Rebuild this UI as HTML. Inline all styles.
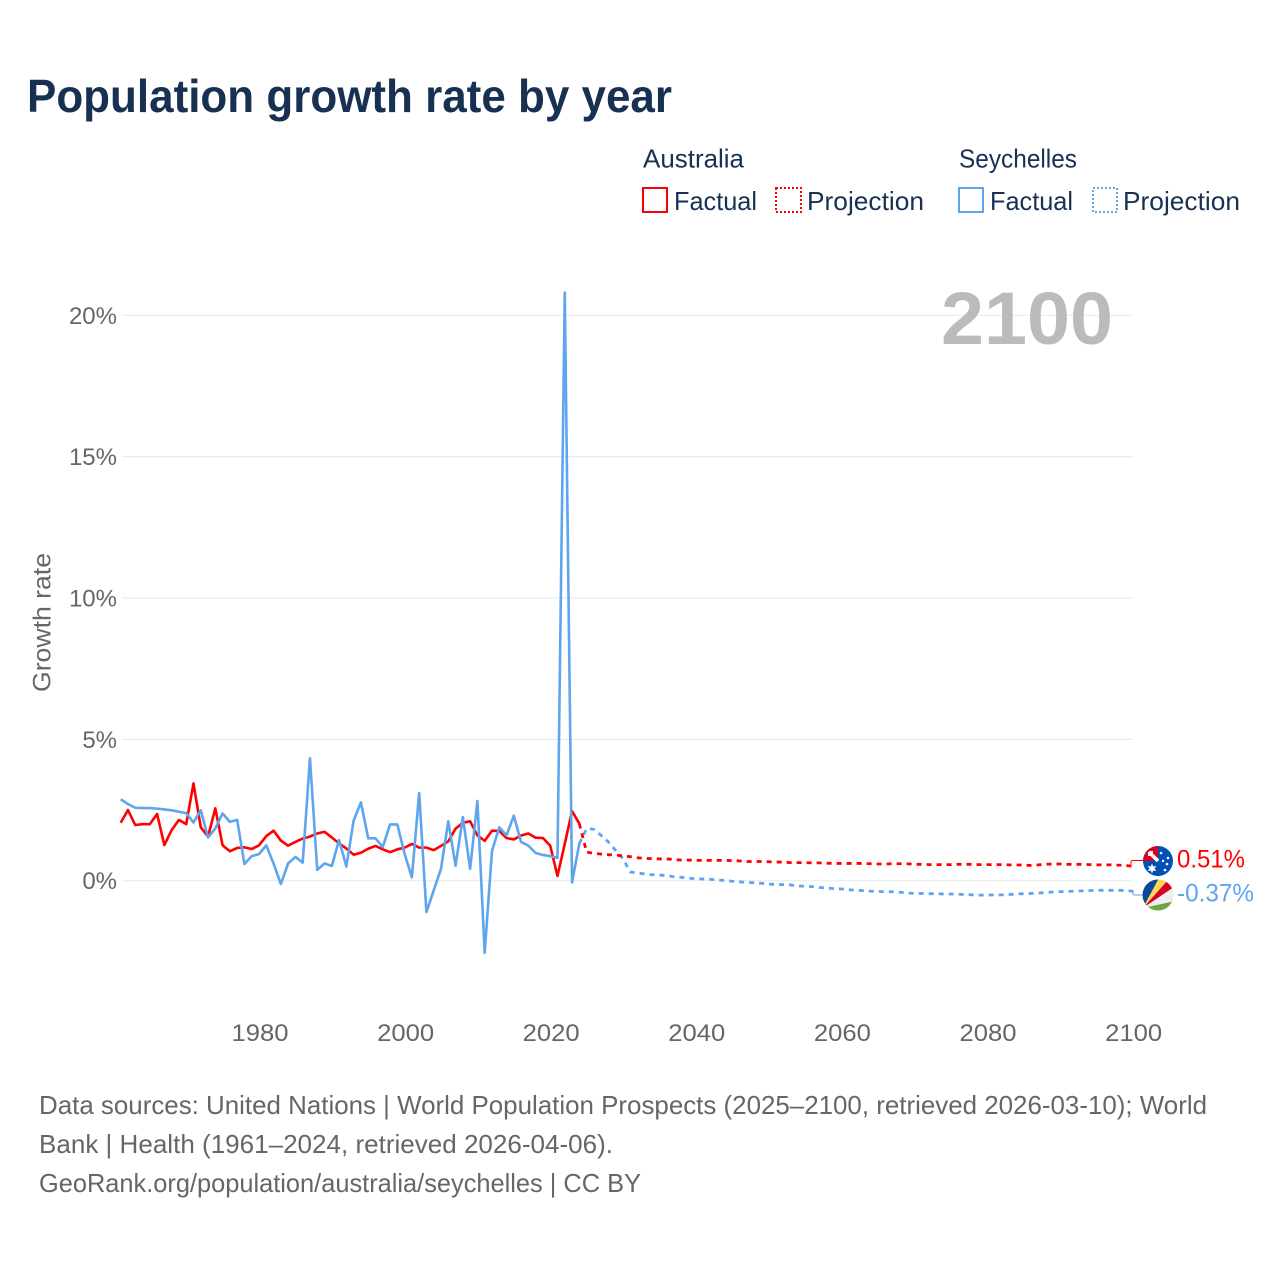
<!DOCTYPE html>
<html lang="en">
<head>
<meta charset="utf-8">
<title>Population growth rate by year</title>
<style>
  html, body { margin: 0; padding: 0; background: #fff; }
  svg { display: block; }
  text { font-family: "Liberation Sans", "DejaVu Sans", sans-serif; }
</style>
</head>
<body>
<svg id="chart" xmlns="http://www.w3.org/2000/svg" width="1280" height="1280" viewBox="0 0 1280 1280">
  <defs>
    <clipPath id="clip-au"><circle cx="1158" cy="861" r="15"></circle></clipPath>
    <clipPath id="clip-sc"><circle cx="1158" cy="895" r="15.5"></circle></clipPath>
  </defs>

  <text x="27" y="112" font-size="46" font-weight="700" fill="#183153" textLength="645" lengthAdjust="spacingAndGlyphs">Population growth rate by year</text>

  <g font-size="26" fill="#183153">
    <text x="643" y="167.5" textLength="101" lengthAdjust="spacingAndGlyphs">Australia</text>
    <text x="959" y="167.5" textLength="118" lengthAdjust="spacingAndGlyphs">Seychelles</text>

    <rect x="643" y="188" width="24" height="24" fill="none" stroke="#ff0000" stroke-width="2"></rect>
    <text x="674" y="210" textLength="83" lengthAdjust="spacingAndGlyphs">Factual</text>
    <rect x="776" y="188" width="25" height="24" fill="none" stroke="#ff0000" stroke-width="2" stroke-dasharray="2 2"></rect>
    <text x="807" y="210" textLength="117" lengthAdjust="spacingAndGlyphs">Projection</text>

    <rect x="959" y="188" width="24" height="24" fill="none" stroke="#5ea5ee" stroke-width="2"></rect>
    <text x="990" y="210" textLength="83" lengthAdjust="spacingAndGlyphs">Factual</text>
    <rect x="1093" y="188" width="24" height="24" fill="none" stroke="#5ea5ee" stroke-width="2" stroke-dasharray="2 2"></rect>
    <text x="1123" y="210" textLength="117" lengthAdjust="spacingAndGlyphs">Projection</text>
  </g>

  <g id="grid-layer"></g>
  <g id="y-tick-layer"></g>
  <g id="x-tick-layer"></g>

  <text x="1113" y="344" font-size="74" font-weight="700" fill="#bbbbbb" text-anchor="end" textLength="172" lengthAdjust="spacingAndGlyphs">2100</text>

  <text transform="translate(50.5 622.5) rotate(-90)" font-size="25" fill="#666666" text-anchor="middle" textLength="139" lengthAdjust="spacingAndGlyphs">Growth rate</text>

  <g id="series-layer"></g>

  <path d="M1131 866 V862 Q1131 860.5 1133 860.5 H1144" fill="none" stroke="#ff0000" stroke-width="1"></path>
  <path d="M1133 890 V893.5 Q1133 895 1135 895 H1143" fill="none" stroke="#5ea5ee" stroke-width="1"></path>

  <g clip-path="url(#clip-au)">
    <rect x="1142" y="845" width="32" height="32" fill="#0052b4"></rect>
    <rect x="1142" y="845" width="16" height="16" fill="#d80027"></rect>
    <path d="M1149 852 L1158 861" stroke="#ffffff" stroke-width="3.5"></path>
    <path d="M1149 852 H1153 M1149 852 V856" stroke="#eeeeee" stroke-width="2"></path>
    <polygon points="1152,863.5 1153.2,866.5 1156.4,866 1154.5,868.5 1156.4,871 1153.2,870.5 1152,873.5 1150.8,870.5 1147.6,871 1149.5,868.5 1147.6,866 1150.8,866.5" fill="#ffffff"></polygon>
    <circle cx="1161" cy="853" r="1.3" fill="#ffffff"></circle>
    <circle cx="1168" cy="858" r="1.3" fill="#ffffff"></circle>
    <circle cx="1163" cy="861" r="1.2" fill="#ffffff"></circle>
    <circle cx="1167" cy="864" r="1.3" fill="#ffffff"></circle>
    <circle cx="1165" cy="870" r="1.3" fill="#ffffff"></circle>
  </g>

  <g clip-path="url(#clip-sc)">
    <rect x="1142" y="879" width="32" height="32" fill="#eeeeee"></rect>
    <polygon points="1143,908 1125,908 1125,875 1160.7,875" fill="#0a4a94"></polygon>
    <polygon points="1143,908 1160.7,875 1172.5,875" fill="#fcd856"></polygon>
    <polygon points="1143,908 1172.5,875 1180,875 1180,883" fill="#d80027"></polygon>
    <polygon points="1143,908 1180,883 1180,900" fill="#eeeeee"></polygon>
    <polygon points="1143,908 1180,900 1180,915 1143,915" fill="#6da544"></polygon>
  </g>

  <text x="1177" y="867.5" font-size="25" fill="#ff0000" textLength="68" lengthAdjust="spacingAndGlyphs">0.51%</text>
  <text x="1177" y="901.5" font-size="25" fill="#5ea5ee" textLength="77" lengthAdjust="spacingAndGlyphs">-0.37%</text>

  <g font-size="26" fill="#666666">
    <text x="39" y="1114" textLength="1168" lengthAdjust="spacingAndGlyphs">Data sources: United Nations | World Population Prospects (2025–2100, retrieved 2026-03-10); World</text>
    <text x="39" y="1153" textLength="574" lengthAdjust="spacingAndGlyphs">Bank | Health (1961–2024, retrieved 2026-04-06).</text>
    <text x="39" y="1192" textLength="602" lengthAdjust="spacingAndGlyphs">GeoRank.org/population/australia/seychelles | CC BY</text>
  </g>
</svg>

<script>
const factualStartYear = 1961;
const projectionStartYear = 2025;

const yTickValues = [0, 5, 10, 15, 20];
const yTickLabels = ["0%", "5%", "10%", "15%", "20%"];
const xTickValues = [1980, 2000, 2020, 2040, 2060, 2080, 2100];
const xTickLabels = ["1980", "2000", "2020", "2040", "2060", "2080", "2100"];

const australiaFactual = [
  2.05, 2.50, 1.97, 2.00, 2.00, 2.36, 1.26, 1.79, 2.15,
  2.00, 3.44, 1.89, 1.56, 2.56, 1.25, 1.04, 1.16, 1.18, 1.12,
  1.25, 1.58, 1.77, 1.42, 1.24, 1.37, 1.49, 1.56, 1.67, 1.73,
  1.53, 1.32, 1.14, 0.92, 0.99, 1.13, 1.23, 1.11, 1.01, 1.11,
  1.17, 1.30, 1.17, 1.17, 1.08, 1.23, 1.39, 1.84, 2.05, 2.10,
  1.60, 1.41, 1.77, 1.76, 1.51, 1.46, 1.60, 1.67, 1.52, 1.51,
  1.24, 0.17, 1.30, 2.46, 2.02
];

const seychellesFactual = [
  2.88, 2.71, 2.58, 2.57, 2.57, 2.55, 2.52, 2.49, 2.44,
  2.39, 2.06, 2.49, 1.53, 1.85, 2.38, 2.08, 2.15, 0.59, 0.87,
  0.94, 1.25, 0.61, -0.12, 0.61, 0.84, 0.64, 4.33, 0.38, 0.61,
  0.52, 1.44, 0.50, 2.13, 2.77, 1.50, 1.50, 1.19, 1.99, 1.99,
  0.95, 0.12, 3.10, -1.11, -0.34, 0.42, 2.10, 0.53, 2.25, 0.42,
  2.82, -2.55, 1.04, 1.89, 1.60, 2.30, 1.37, 1.24, 0.98, 0.91,
  0.87, 0.81, 20.80, -0.06, 1.31
];

const australiaProjection = [
  1.01, 0.97, 0.94, 0.92, 0.91, 0.87, 0.85, 0.81, 0.79, 0.78,
  0.77, 0.77, 0.75, 0.73, 0.73, 0.72, 0.72, 0.72, 0.72, 0.72,
  0.71, 0.70, 0.68, 0.68, 0.68, 0.67, 0.66, 0.66, 0.64, 0.64,
  0.64, 0.63, 0.63, 0.62, 0.61, 0.61, 0.61, 0.61, 0.61, 0.60,
  0.59, 0.59, 0.60, 0.60, 0.60, 0.58, 0.58, 0.57, 0.57, 0.57,
  0.57, 0.58, 0.58, 0.58, 0.57, 0.57, 0.57, 0.57, 0.56, 0.56,
  0.55, 0.54, 0.56, 0.58, 0.59, 0.59, 0.58, 0.58, 0.58, 0.57,
  0.56, 0.56, 0.56, 0.55, 0.54, 0.51
];

const seychellesProjection = [
  1.84, 1.82, 1.60, 1.37, 1.07, 0.78, 0.31, 0.27, 0.24, 0.21,
  0.20, 0.18, 0.14, 0.12, 0.09, 0.07, 0.06, 0.05, 0.02, 0.01,
  -0.02, -0.04, -0.06, -0.07, -0.09, -0.12, -0.13, -0.14, -0.15, -0.18,
  -0.20, -0.21, -0.24, -0.26, -0.28, -0.29, -0.32, -0.34, -0.35, -0.37,
  -0.38, -0.39, -0.39, -0.41, -0.43, -0.45, -0.45, -0.46, -0.46, -0.47,
  -0.47, -0.48, -0.49, -0.50, -0.51, -0.51, -0.50, -0.50, -0.49, -0.47,
  -0.46, -0.45, -0.44, -0.42, -0.40, -0.39, -0.38, -0.37, -0.36, -0.35,
  -0.34, -0.34, -0.34, -0.34, -0.35, -0.37
];

const SVG_NS = "http://www.w3.org/2000/svg";
const RED = "#ff0000";
const BLUE = "#5ea5ee";

function xScale(year) {
  return 259 + (year - 1980) * 7.28;
}
function yScale(pct) {
  return 880.7 - pct * 28.27;
}
function linePath(startYear, values) {
  return values.map(function (v, i) {
    return (i ? "L" : "M") + xScale(startYear + i).toFixed(2) + " " + yScale(v).toFixed(2);
  }).join(" ");
}
function make(tag, parent) {
  const el = document.createElementNS(SVG_NS, tag);
  parent.appendChild(el);
  return el;
}

const gridLayer = document.getElementById("grid-layer");
const yTickLayer = document.getElementById("y-tick-layer");
const xTickLayer = document.getElementById("x-tick-layer");
const seriesLayer = document.getElementById("series-layer");

yTickValues.forEach(function (value, i) {
  const line = make("line", gridLayer);
  
  
  line.setAttribute("x1", 122);
  line.setAttribute("x2", 1133);
  line.setAttribute("y1", yScale(value));
  line.setAttribute("y2", yScale(value));
  line.setAttribute("stroke", "#ebebeb");
  line.setAttribute("stroke-width", 1.2);

  const label = make("text", yTickLayer);
  
  
  label.setAttribute("x", 117);
  label.setAttribute("y", yScale(value) + 8.5);
  label.setAttribute("font-size", 24);
  label.setAttribute("fill", "#666666");
  label.setAttribute("text-anchor", "end");
  label.textContent = yTickLabels[i];
});

xTickValues.forEach(function (value, i) {
  const label = make("text", xTickLayer);
  
  
  label.setAttribute("x", xScale(value) + 1);
  label.setAttribute("y", 1041);
  label.setAttribute("font-size", 24);
  label.setAttribute("fill", "#666666");
  label.setAttribute("text-anchor", "middle");
  label.setAttribute("textLength", 57);
  label.setAttribute("lengthAdjust", "spacingAndGlyphs");
  label.textContent = xTickLabels[i];
});

function styleLine(el, color, dashed) {
  el.setAttribute("fill", "none");
  el.setAttribute("stroke", color);
  el.setAttribute("stroke-width", dashed ? 2.8 : 2.6);
  el.setAttribute("stroke-linejoin", "round");
  if (dashed) {
    el.setAttribute("stroke-dasharray", "5 5");
  }
}

const auFactualLine = make("path", seriesLayer);


auFactualLine.setAttribute("d", linePath(factualStartYear, australiaFactual));
styleLine(auFactualLine, RED, false);

const scFactualLine = make("path", seriesLayer);


scFactualLine.setAttribute("d", linePath(factualStartYear, seychellesFactual));
styleLine(scFactualLine, BLUE, false);

const scProjectionLine = make("path", seriesLayer);


scProjectionLine.setAttribute("d", linePath(projectionStartYear - 1, [seychellesFactual[seychellesFactual.length - 1]].concat(seychellesProjection)));
styleLine(scProjectionLine, BLUE, true);

const auProjectionLine = make("path", seriesLayer);


auProjectionLine.setAttribute("d", linePath(projectionStartYear - 1, [australiaFactual[australiaFactual.length - 1]].concat(australiaProjection)));
styleLine(auProjectionLine, RED, true);
</script>
</body>
</html>
